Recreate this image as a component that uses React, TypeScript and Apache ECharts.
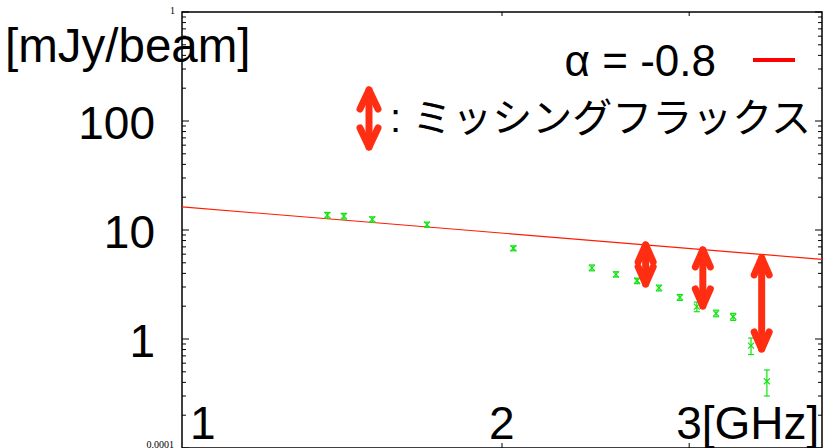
import React, { useEffect, useRef } from "react";
import * as echarts from "echarts";

// Observed flux density (mJy/beam) vs frequency (GHz)
const freqGHz = [1.37, 1.42, 1.51, 1.70, 2.05, 2.43, 2.56, 2.68, 2.81, 2.94, 3.05, 3.18, 3.30, 3.43, 3.55];
const fluxMJy = [13.7, 13.4, 12.5, 11.2, 6.8, 4.5, 3.92, 3.42, 2.94, 2.41, 1.98, 1.72, 1.60, 0.87, 0.41];
const fluxErr = [0.8, 0.8, 0.7, 0.6, 0.35, 0.28, 0.22, 0.2, 0.18, 0.15, 0.2, 0.12, 0.12, 0.15, 0.11];

// Power law alpha = -0.8
const fitFreq = [1, 4];
const fitFlux = [16.3, 5.38];

// Missing-flux arrows
const missFreq = [2.73, 3.09, 3.51];
const missTop = [7.3, 6.56, 5.54];
const missBottom = [3.2, 2.01, 0.81];

// Axis ticks and labels
const xTickValues = [2, 3];
const xLabelValues = [1, 2, 3];
const xLabelTexts = ["1", "2", "3[GHz]"];
const yMajorTicks = [0.1, 1, 10, 100, 1000];
const yMinorMultipliers = [2, 3, 4, 5, 6, 7, 8, 9];
const yLabelValues = [100, 10, 1];
const yLabelTexts = ["100", "10", "1"];

const SANS = '"Liberation Sans", Arial, sans-serif';
const GREEN = "#12e312";
const ARROW = "#ff2e12";

export default function App() {
  const ref = useRef<HTMLDivElement>(null);

  useEffect(() => {
    if (!ref.current) return;
    const chart = echarts.init(ref.current, null, { renderer: "svg" });

    const yTickData: number[][] = [];
    yMajorTicks.forEach((m) => yTickData.push([1, m, 1]));
    yMajorTicks.slice(0, -1).forEach((m) =>
      yMinorMultipliers.forEach((k) => yTickData.push([1, m * k, 0]))
    );

    const arrowStyle = {
      stroke: ARROW,
      lineWidth: 7,
      lineCap: "round",
      lineJoin: "round",
      fill: "none",
    };

    const makeArrow = (x: number, yTop: number, yBot: number, dx: number, dy: number) => ({
      type: "group",
      children: [
        { type: "line", shape: { x1: x, y1: yTop, x2: x, y2: yBot }, style: arrowStyle },
        {
          type: "polyline",
          shape: { points: [[x - dx, yTop + dy], [x, yTop], [x + dx, yTop + dy]] },
          style: arrowStyle,
        },
        {
          type: "polyline",
          shape: { points: [[x - dx, yBot - dy], [x, yBot], [x + dx, yBot - dy]] },
          style: arrowStyle,
        },
      ],
    });

    const textStyle = (text: string, size: number, align: string, family = SANS) => ({
      text,
      fill: "#000",
      font: `${size}px ${family}`,
      align,
      textAlign: align,
      verticalAlign: "middle",
      textVerticalAlign: "middle",
    });

    chart.setOption({
      animation: false,
      backgroundColor: "#fff",
      grid: {
        left: 182,
        right: 3,
        top: 12,
        bottom: 0,
        show: true,
        borderColor: "#000",
        borderWidth: 1.5,
        backgroundColor: "transparent",
      },
      xAxis: {
        type: "log",
        logBase: 10,
        min: 1,
        max: 4,
        axisLine: { show: false },
        axisTick: { show: false },
        axisLabel: { show: false },
        splitLine: { show: false },
      },
      yAxis: {
        type: "log",
        logBase: 10,
        min: 0.1,
        max: 1000,
        axisLine: { show: false },
        axisTick: { show: false },
        axisLabel: { show: false },
        splitLine: { show: false },
      },
      graphic: [
        { type: "text", x: 5, y: 45, style: textStyle("[mJy/beam]", 47.5, "left") },
        { type: "text", x: 716, y: 60, style: textStyle("α = -0.8", 44, "right") },
        {
          type: "line",
          shape: { x1: 753, y1: 60, x2: 795, y2: 60 },
          style: { stroke: "#ff0000", lineWidth: 4 },
        },
        makeArrow(369, 90, 147, 9, 19),
        {
          type: "text",
          x: 390,
          y: 118,
          style: textStyle(": ミッシングフラックス", 40, "left", '"Liberation Sans", "Noto Sans CJK JP", sans-serif'),
        },
        { type: "text", x: 175, y: 10, style: textStyle("1", 10, "right", '"Liberation Serif", serif') },
        { type: "text", x: 174, y: 444, style: textStyle("0.0001", 10, "right", '"Liberation Serif", serif') },
      ],
      series: [
        {
          type: "line",
          data: fitFreq.map((f, i) => [f, fitFlux[i]]),
          symbol: "none",
          lineStyle: { color: "#ff1a00", width: 1.1 },
          z: 2,
        },
        {
          type: "custom",
          data: freqGHz.map((f, i) => [f, fluxMJy[i], fluxMJy[i] - fluxErr[i], fluxMJy[i] + fluxErr[i]]),
          encode: { x: 0, y: [1, 2, 3] },
          z: 3,
          renderItem: (params: any, api: any) => {
            const c = api.coord([api.value(0), api.value(1)]);
            const lo = api.coord([api.value(0), api.value(2)]);
            const hi = api.coord([api.value(0), api.value(3)]);
            const s = { stroke: GREEN, lineWidth: 1.2, fill: "none" };
            const m = 3;
            const cap = 3;
            return {
              type: "group",
              children: [
                { type: "line", shape: { x1: c[0] - m, y1: c[1] - m, x2: c[0] + m, y2: c[1] + m }, style: s },
                { type: "line", shape: { x1: c[0] - m, y1: c[1] + m, x2: c[0] + m, y2: c[1] - m }, style: s },
                { type: "line", shape: { x1: c[0], y1: lo[1], x2: c[0], y2: hi[1] }, style: s },
                { type: "line", shape: { x1: c[0] - cap, y1: lo[1], x2: c[0] + cap, y2: lo[1] }, style: s },
                { type: "line", shape: { x1: c[0] - cap, y1: hi[1], x2: c[0] + cap, y2: hi[1] }, style: s },
              ],
            };
          },
        },
        {
          type: "custom",
          data: missFreq.map((f, i) => [f, missTop[i], missBottom[i]]),
          encode: { x: 0, y: [1, 2] },
          z: 5,
          renderItem: (params: any, api: any) => {
            const t = api.coord([api.value(0), api.value(1)]);
            const b = api.coord([api.value(0), api.value(2)]);
            return makeArrow(t[0], t[1], b[1], 7.5, 17);
          },
        },
        {
          type: "custom",
          data: yTickData,
          encode: { x: 0, y: 1 },
          z: 4,
          renderItem: (params: any, api: any) => {
            const cs = params.coordSys;
            const p = api.coord([api.value(0), api.value(1)]);
            const len = api.value(2) ? 7 : 4;
            const s = { stroke: "#000", lineWidth: 1 };
            return {
              type: "group",
              children: [
                { type: "line", shape: { x1: cs.x, y1: p[1], x2: cs.x + len, y2: p[1] }, style: s },
                { type: "line", shape: { x1: cs.x + cs.width, y1: p[1], x2: cs.x + cs.width - len, y2: p[1] }, style: s },
              ],
            };
          },
        },
        {
          type: "custom",
          data: xTickValues.map((v) => [v, 1]),
          encode: { x: 0, y: 1 },
          z: 4,
          renderItem: (params: any, api: any) => {
            const cs = params.coordSys;
            const p = api.coord([api.value(0), api.value(1)]);
            const s = { stroke: "#000", lineWidth: 1 };
            return {
              type: "group",
              children: [
                { type: "line", shape: { x1: p[0], y1: cs.y, x2: p[0], y2: cs.y + 4 }, style: s },
                { type: "line", shape: { x1: p[0], y1: cs.y + cs.height, x2: p[0], y2: cs.y + cs.height - 5 }, style: s },
              ],
            };
          },
        },
        {
          type: "custom",
          data: yLabelValues.map((v) => [1, v]),
          encode: { x: 0, y: 1 },
          z: 6,
          renderItem: (params: any, api: any) => {
            const p = api.coord([api.value(0), api.value(1)]);
            return {
              type: "text",
              x: 155,
              y: p[1] + 1.5,
              style: textStyle(yLabelTexts[params.dataIndex], 46, "right"),
            };
          },
        },
        {
          type: "custom",
          data: xLabelValues.map((v) => [v, 1]),
          encode: { x: 0, y: 1 },
          z: 6,
          renderItem: (params: any, api: any) => {
            const cs = params.coordSys;
            const p = api.coord([api.value(0), api.value(1)]);
            const i = params.dataIndex;
            const offsets = [8, -13, -13];
            return {
              type: "text",
              x: p[0] + offsets[i],
              y: cs.y + cs.height - 25,
              style: textStyle(xLabelTexts[i], 46, "left"),
            };
          },
        },
      ],
    });

    return () => chart.dispose();
  }, []);

  return (
    <div
      ref={ref}
      style={{ position: "fixed", left: 0, top: 0, width: 825, height: 448 }}
    />
  );
}
